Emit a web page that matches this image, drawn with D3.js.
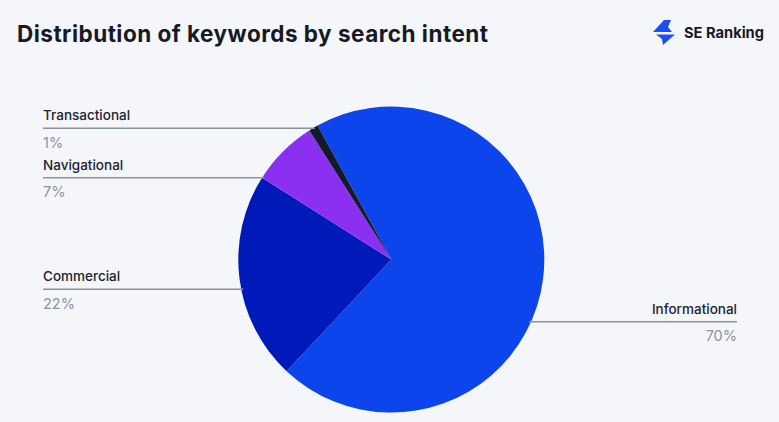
<!DOCTYPE html>
<html><head><meta charset="utf-8">
<script src="https://cdn.jsdelivr.net/npm/d3@7"></script>
<style>
html,body{margin:0;padding:0;background:#f5f6fa;}
svg{display:block;font-family:Inter,"Noto Sans",sans-serif;}
</style></head>
<body>
<svg id="chart" width="779" height="422"></svg>
<script>
const categories = ["Informational", "Commercial", "Navigational", "Transactional"];
const values = [70, 22, 7, 1];
const valueLabels = ["70%", "22%", "7%", "1%"];
const colors = ["#0c45eb", "#0019b9", "#8b30f1", "#141a2b"];

const W = 779, H = 422;
const svg = d3.select("#chart");
svg.append("rect").attr("width", W).attr("height", H).attr("fill", "#f5f6fa");

// title
svg.append("text").attr("x", 17).attr("y", 42)
  .attr("font-size", 22.5).attr("font-weight", 700).attr("fill", "#161a27")
  .attr("textLength", 471).attr("lengthAdjust", "spacing")
  .text("Distribution of keywords by search intent");

// logo
const logo = svg.append("g");
logo.append("path").attr("d", "M664,20 L671,20 L668,27 L672,32 L653,32 Z").attr("fill", "#1d4ef2");
logo.append("path").attr("d", "M656,34.5 L675,34.5 L663,45 L662,39 Z").attr("fill", "#1d4ef2");
logo.append("text").attr("x", 684).attr("y", 37.5).attr("font-size", 15).attr("font-weight", 700)
  .attr("fill", "#161a27").attr("textLength", 80).attr("lengthAdjust", "spacingAndGlyphs").text("SE Ranking");

// pie
const cx = 391.3, cy = 259.6, r = 153;
const startA = -0.503;
const pie = d3.pie().sort(null).value(d => d.v)
  .startAngle(startA).endAngle(startA + 2 * Math.PI);
const data = categories.map((c, i) => ({ c, v: values[i], lab: valueLabels[i], col: colors[i] }));
const arcs = pie(data);
const arc = d3.arc().innerRadius(0).outerRadius(r);
const g = svg.append("g").attr("transform", `translate(${cx},${cy})`);

// label layout (y of leader line, side)
const layout = {
  "Informational": { y: 321.7, side: "right" },
  "Commercial": { y: 289.3, side: "left" },
  "Navigational": { y: 177.7, side: "left" },
  "Transactional": { y: 128.3, side: "left" }
};

arcs.forEach(a => {
  const L = layout[a.data.c];
  const dy = L.y - cy;
  const dx = Math.sqrt(r * r - dy * dy);
  let x1, x2;
  if (L.side === "left") { x1 = 43; x2 = cx - dx + 2; }
  else { x1 = cx + dx - 2; x2 = 737; }
  svg.append("line").attr("x1", x1).attr("x2", x2).attr("y1", L.y).attr("y2", L.y)
    .attr("stroke", "#8c91a0").attr("stroke-width", 1.5);
  const tx = L.side === "left" ? 43 : 737;
  const anchor = L.side === "left" ? "start" : "end";
  svg.append("text").attr("x", tx).attr("y", L.y - 8).attr("text-anchor", anchor)
    .attr("font-size", 13.5).attr("font-weight", 500).attr("fill", "#20242f").text(a.data.c);
  svg.append("text").attr("x", tx).attr("y", L.y + 19.5).attr("text-anchor", anchor)
    .attr("font-size", 14.5).attr("font-weight", 400).attr("fill", "#8d92a1").text(a.data.lab);
});

g.selectAll("path").data(arcs).enter().append("path")
  .attr("d", arc).attr("fill", d => d.data.col);
</script>
</body></html>
